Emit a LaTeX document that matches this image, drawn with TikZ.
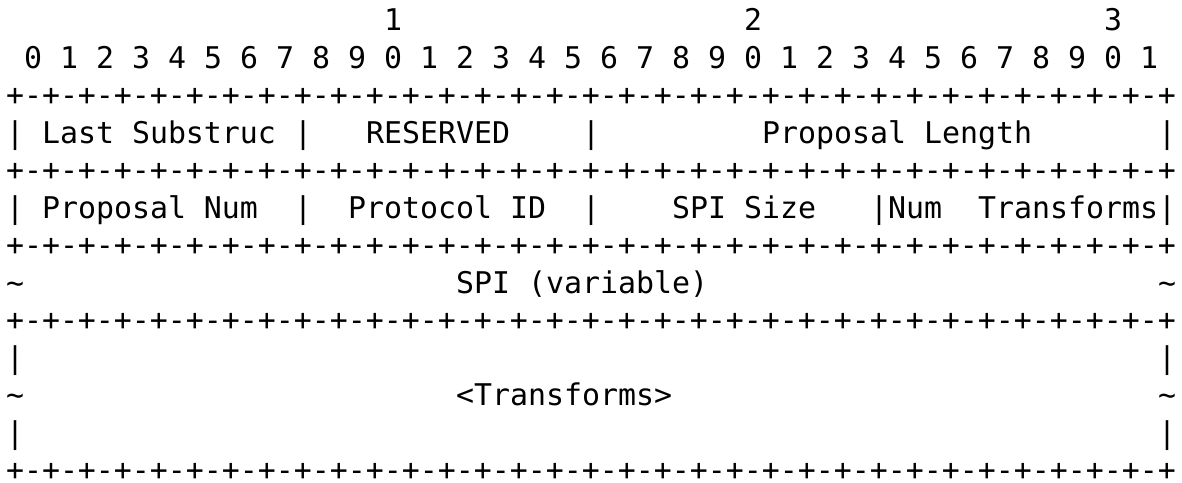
\documentclass[tikz,border=0pt]{standalone}
\usepackage{fontspec}
\newfontfamily\asciimono{DejaVu Sans Mono}
\begin{document}
\begin{tikzpicture}[x=1pt,y=-1pt,
  txt/.style={anchor=base west, inner sep=0pt, outer sep=0pt,
    font=\asciimono\fontsize{29.9}{36}\selectfont, text=black}]
\useasboundingbox (0,0) rectangle (1182,482);
\def\cx#1{6+18*#1}
\def\by#1{30.8+37.5*#1}
\def\border{+-+-+-+-+-+-+-+-+-+-+-+-+-+-+-+-+-+-+-+-+-+-+-+-+-+-+-+-+-+-+-+-+}
% ruler
\node[txt] (t1) at ({\cx{21}},{\by{0}}) {1};
\node[txt] (t2) at ({\cx{41}},{\by{0}}) {2};
\node[txt] (t3) at ({\cx{61}},{\by{0}}) {3};
\foreach \i in {0,...,31}{
  \pgfmathtruncatemacro{\d}{mod(\i,10)}
  \node[txt] (bit\i) at ({\cx{(1+2*\i)}},{\by{1}}) {\d};
}
% borders
\foreach \k/\n in {2/bA,4/bB,6/bC,8/bD,12/bE}{
  \node[txt] (\n) at ({\cx{0}},{\by{\k}}) {\border};
}
% row 1
\node[txt] (r1a) at ({\cx{0}},{\by{3}}) {|};
\node[txt] (last) at ({\cx{2}},{\by{3}}) {Last Substruc};
\node[txt] (r1b) at ({\cx{16}},{\by{3}}) {|};
\node[txt] (res) at ({\cx{20}},{\by{3}}) {RESERVED};
\node[txt] (r1c) at ({\cx{32}},{\by{3}}) {|};
\node[txt] (plen) at ({\cx{42}},{\by{3}}) {Proposal Length};
\node[txt] (r1d) at ({\cx{64}},{\by{3}}) {|};
% row 2
\node[txt] (r2a) at ({\cx{0}},{\by{5}}) {|};
\node[txt] (pnum) at ({\cx{2}},{\by{5}}) {Proposal Num};
\node[txt] (r2b) at ({\cx{16}},{\by{5}}) {|};
\node[txt] (pid) at ({\cx{19}},{\by{5}}) {Protocol ID};
\node[txt] (r2c) at ({\cx{32}},{\by{5}}) {|};
\node[txt] (spis) at ({\cx{37}},{\by{5}}) {SPI Size};
\node[txt] (r2d) at ({\cx{48}},{\by{5}}) {|};
\node[txt] (num) at ({\cx{49}},{\by{5}}) {Num};
\node[txt] (ntr) at ({\cx{54}},{\by{5}}) {Transforms};
\node[txt] (r2e) at ({\cx{64}},{\by{5}}) {|};
% SPI row
\node[txt] (s1) at ({\cx{0}},{\by{7}}) {\textasciitilde};
\node[txt] (spi) at ({\cx{25}},{\by{7}}) {SPI (variable)};
\node[txt] (s2) at ({\cx{64}},{\by{7}}) {\textasciitilde};
% Transforms rows
\node[txt] (u1) at ({\cx{0}},{\by{9}}) {|};
\node[txt] (u2) at ({\cx{64}},{\by{9}}) {|};
\node[txt] (v1) at ({\cx{0}},{\by{10}}) {\textasciitilde};
\node[txt] (trf) at ({\cx{25}},{\by{10}}) {<Transforms>};
\node[txt] (v2) at ({\cx{64}},{\by{10}}) {\textasciitilde};
\node[txt] (w1) at ({\cx{0}},{\by{11}}) {|};
\node[txt] (w2) at ({\cx{64}},{\by{11}}) {|};
\end{tikzpicture}
\end{document}
